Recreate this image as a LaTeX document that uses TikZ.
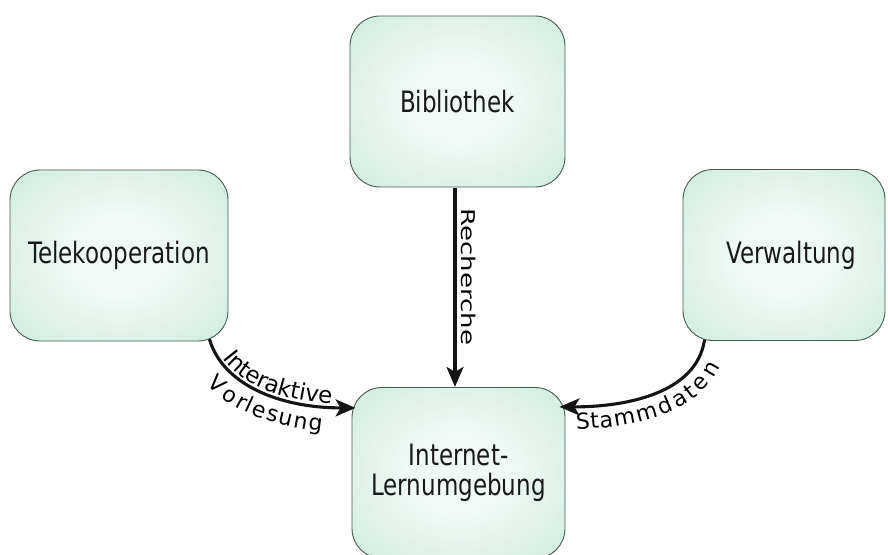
\documentclass[tikz,border=0pt]{standalone}
\usepackage{fontspec}
\setmainfont{DejaVu Sans}
\usetikzlibrary{arrows.meta,decorations.text,calc}
\definecolor{boxin}{RGB}{240,249,245}
\definecolor{boxmid}{RGB}{200,234,218}
\definecolor{boxout}{RGB}{168,220,196}
\definecolor{boxline}{RGB}{72,90,80}
\definecolor{arrcol}{RGB}{20,20,20}
\pgfdeclareradialshading{boxshade}{\pgfpoint{0bp}{0bp}}{color(0bp)=(boxin); color(12bp)=(boxin); color(40bp)=(boxmid); color(50bp)=(boxout); color(70bp)=(boxout)}
\newcommand\boxfont{\fontsize{23}{23}\selectfont}
\newcommand\lblfontA{\fontsize{23}{23}\selectfont}
\newcommand\lblfontB{\fontsize{22}{22}\selectfont}
\newcommand\rchfont{\fontsize{19}{19}\selectfont}
\begin{document}
\begin{tikzpicture}[x=1pt,y=1pt,
  box/.style={draw=boxline, line width=0.9pt, rounded corners=30pt,
    shade, shading=boxshade, yscale=1.28,
    minimum height=133.6pt, inner sep=0pt, font=\boxfont, align=center,
    text=black!90},
  arr/.style={draw=arrcol, line width=3.1pt,
    -{Stealth[length=20pt,width=17pt,inset=5pt]}},
  lblpath/.style={decorate, decoration={text along path,
    text={#1}, text align=center}}
]
\useasboundingbox (0,0) rectangle (888,554);
\clip (0,0) rectangle (888,554);

\node[box, minimum width=215pt] (bib)  at (457.5,452.5) {Bibliothek};
\node[box, minimum width=218pt] (tele) at (119,298.5)   {Telekooperation};
\node[box, minimum width=202pt] (verw) at (784,299)     {\hspace*{14pt}Verwaltung};
\node[box, minimum width=213pt] (inet) at (458.5,81)    {Internet-\\Lernumgebung};

% Recherche
\draw[arr] ([xshift=-2.5pt]bib.south) -- ([xshift=-3.5pt]inet.north);
\node[font=\rchfont, rotate=-90, xscale=1.37, inner sep=0pt] (rch) at (469,277) {Recherche};

% left curved arrow
\coordinate (ls) at ([xshift=-19pt,yshift=2.5pt]tele.south east);
\coordinate (le) at ([xshift=4pt,yshift=-21pt]inet.north west);
\draw[arr] (ls) .. controls ($(ls)+(13,-45)$) and ($(le)+(-77,0)$) .. (le);
\path[lblpath={|\lblfontA|Interaktive}, decoration={raise=3pt}]
  (ls) .. controls ($(ls)+(13,-45)$) and ($(le)+(-77,0)$) .. (le);
\path[lblpath={|\lblfontB|Vorlesung}, decoration={raise=-25pt}]
  (ls) .. controls ($(ls)+(13,-45)$) and ($(le)+(-77,0)$) .. (le);

% right curved arrow
\coordinate (rs) at ([xshift=22pt,yshift=1.4pt]verw.south west);
\coordinate (re) at ([xshift=-6pt,yshift=-20pt]inet.north east);
\draw[arr] (rs) .. controls ($(rs)+(-8,-54)$) and ($(re)+(66,0)$) .. (re);
\path[lblpath={|\lblfontB|Stammdaten}, decoration={raise=-23pt}]
  (re) .. controls ($(re)+(66,0)$) and ($(rs)+(-8,-54)$) .. (rs);
\end{tikzpicture}
\end{document}
